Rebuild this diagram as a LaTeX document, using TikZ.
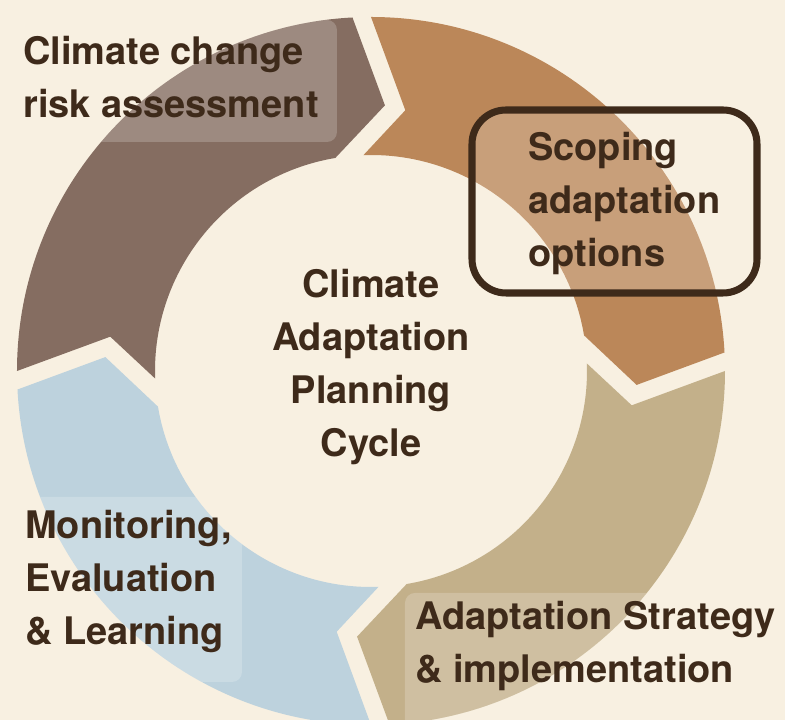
\documentclass[tikz,border=0pt]{standalone}
\usepackage{fontspec}
\setmainfont{TeX Gyre Heros}
\definecolor{cream}{HTML}{F8F0E1}
\definecolor{riskbrown}{HTML}{856D61}
\definecolor{scopeorange}{HTML}{BB8759}
\definecolor{strategytan}{HTML}{C3B08A}
\definecolor{monitorblue}{HTML}{BDD2DD}
\definecolor{ink}{HTML}{3E2A1A}
% one arrow of the ring, from its tail angle #1 a quarter turn clockwise
\newcommand{\ringarrow}[2]{%
    \fill[#2] (#1:354) arc[start angle=#1, end angle=#1-87, radius=354]
        -- (#1-93:266) -- (#1-80.5:216)
        arc[start angle=#1-80.5, end angle=#1+2, radius=216]
        -- (#1-7.5:263) -- cycle;
}
\begin{document}
\begin{tikzpicture}[x=0.025cm, y=0.025cm,
    labelbox/.style={fill=white, fill opacity=0.2, rounded corners=0.25cm},
    steplabel/.style={font=\fontsize{27}{37.7}\selectfont\bfseries, text=ink,
        align=left, inner sep=0, anchor=base west}]
    \useasboundingbox (-371,-349) rectangle (414,371);
    \fill[cream] (-371,-349) rectangle (414,371);

    % The four arrows of the cycle
    \ringarrow{180}{riskbrown}
    \ringarrow{90}{scopeorange}
    \ringarrow{0}{strategytan}
    \ringarrow{270}{monitorblue}

    % Boxes under the step labels, only seen on the ring
    \begin{scope}[even odd rule]
        \clip (0,0) circle[radius=354] (0,0) circle[radius=216];
        \fill[labelbox] (-361,351) rectangle (-34,229);
        \fill[labelbox] (-356,-126) rectangle (-129,-311);
        \fill[labelbox] (34,-222) rectangle (409,-360);
        \fill[labelbox, rounded corners=0.85cm] (101,261) rectangle (386,78);
    \end{scope}
    \draw[ink, line width=5pt, rounded corners=0.85cm] (101,261) rectangle (386,78);

    % Step labels
    \node[steplabel] (risk) at (-348,253) {Climate change\\risk assessment};
    \node[steplabel] (scoping) at (157,104) {Scoping\\adaptation\\options};
    \node[steplabel] (strategy) at (44,-312) {Adaptation Strategy\\\& implementation};
    \node[steplabel] (monitoring) at (-346,-274) {Monitoring,\\Evaluation\\\& Learning};

    % Centre title
    \node[steplabel, align=center, anchor=base] (cycle) at (0,-86)
        {Climate\\Adaptation\\Planning\\Cycle};
\end{tikzpicture}
\end{document}
